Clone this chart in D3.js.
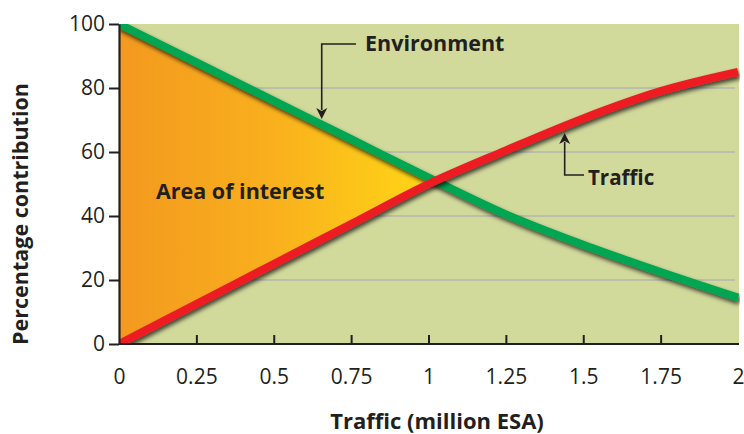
<!DOCTYPE html>
<html><head><meta charset="utf-8">
<script src="https://cdn.jsdelivr.net/npm/d3@7"></script>
<style>
body{margin:0;background:#fff}
svg{display:block}
text{font-family:"Open Sans",sans-serif}
</style>
</head><body>
<svg id="c" width="744" height="434"></svg>
<script>
// ---- data ----
const trafficESA = [0, 0.25, 0.5, 0.75, 1, 1.25, 1.5, 1.75, 2];
const environmentPct = [100, 88, 76, 64, 52, 40.5, 31, 22.5, 14.5];
const trafficPct = [0, 12.5, 25, 37.5, 50, 60.5, 70.5, 79, 85];
const xTickValues = [0, 0.25, 0.5, 0.75, 1, 1.25, 1.5, 1.75, 2];
const xTickLabels = ["0", "0.25", "0.5", "0.75", "1", "1.25", "1.5", "1.75", "2"];
const yTickValues = [0, 20, 40, 60, 80, 100];
const gridValues = [20, 40, 60, 80];

const svg = d3.select("#c");
const L = 119, R = 738, T = 24, B = 344;
const x = d3.scaleLinear().domain([0, 2]).range([L, R]);
const y = d3.scaleLinear().domain([0, 100]).range([B, T]);

const defs = svg.append("defs");
const grad = defs.append("linearGradient").attr("id", "aoi")
  .attr("gradientUnits", "userSpaceOnUse")
  .attr("x1", x(0)).attr("x2", x(1)).attr("y1", 0).attr("y2", 0);
grad.append("stop").attr("offset", 0).attr("stop-color", "#f3991f");
grad.append("stop").attr("offset", 0.5).attr("stop-color", "#f9b01d");
grad.append("stop").attr("offset", 1).attr("stop-color", "#ffd616");

const sh = defs.append("filter").attr("id", "sh")
  .attr("x", "-10%").attr("y", "-10%").attr("width", "120%").attr("height", "130%");
sh.append("feDropShadow").attr("dx", 1.5).attr("dy", 3).attr("stdDeviation", 2)
  .attr("flood-color", "#000").attr("flood-opacity", 0.7);

defs.append("clipPath").attr("id", "plot").append("rect")
  .attr("x", L).attr("y", T).attr("width", R - L + 2).attr("height", B - T);

// intersection of the two series
const rows = trafficESA.map((t, i) => ({t, e: environmentPct[i], r: trafficPct[i]}));
let xi = 2;
for (let i = 1; i < rows.length; i++) {
  const d0 = rows[i-1].e - rows[i-1].r, d1 = rows[i].e - rows[i].r;
  if (d0 >= 0 && d1 < 0) { xi = rows[i-1].t + (rows[i].t - rows[i-1].t) * d0 / (d0 - d1); break; }
}
defs.append("clipPath").attr("id", "aoiclip").append("rect")
  .attr("x", L).attr("y", T).attr("width", x(xi) - L).attr("height", B - T);

// background
svg.append("rect").attr("x", L).attr("y", T).attr("width", R - L + 1).attr("height", B - T)
  .attr("fill", "#d1d99b");

// grid
svg.append("g").selectAll("line").data(gridValues).join("line")
  .attr("x1", L).attr("x2", R - 3).attr("y1", d => y(d)).attr("y2", d => y(d))
  .attr("stroke", "#a4a6b6").attr("stroke-width", 1.2);

// area of interest
const curve = d3.curveCatmullRom.alpha(0.5);
const area = d3.area().x(d => x(d.t)).y0(d => y(d.r)).y1(d => y(d.e)).curve(curve);
svg.append("path").datum(rows).attr("d", area).attr("fill", "url(#aoi)")
  .attr("clip-path", "url(#aoiclip)");

const lines = svg.append("g").attr("clip-path", "url(#plot)");
const envLine = d3.line().x(d => x(d.t)).y(d => y(d.e)).curve(curve);
const trLine = d3.line().x(d => x(d.t)).y(d => y(d.r)).curve(curve);
lines.append("path").datum(rows).attr("d", envLine).attr("fill", "none")
  .attr("stroke", "#00a651").attr("stroke-width", 8).attr("filter", "url(#sh)");
lines.append("path").datum(rows).attr("d", trLine).attr("fill", "none")
  .attr("stroke", "#ed1c24").attr("stroke-width", 8).attr("filter", "url(#sh)");

// axes
const ink = "#231f20";
const yAxis = svg.append("g").attr("transform", `translate(${L},0)`)
  .call(d3.axisLeft(y).tickValues(yTickValues).tickSizeInner(10).tickSizeOuter(0).tickPadding(4));
const xAxis = svg.append("g").attr("transform", `translate(0,${B})`)
  .call(d3.axisBottom(x).tickValues(xTickValues).tickFormat((d, i) => xTickLabels[i])
    .tickSizeInner(-9).tickSizeOuter(0).tickPadding(25));
[yAxis, xAxis].forEach(g => {
  g.select(".domain").attr("stroke", ink).attr("stroke-width", 2.2);
  g.selectAll(".tick line").attr("stroke", ink).attr("stroke-width", 2);
  g.selectAll(".tick text").attr("fill", ink).style("font-size", "21px")
    .style("font-family", '"Open Sans", sans-serif');
});
xAxis.selectAll(".tick line").filter(d => d === 0 || d === 2).remove();
xAxis.select(".domain").attr("d", `M${L},0H${R + 1}`);

// axis titles
svg.append("text").attr("x", 437).attr("y", 429).attr("text-anchor", "middle")
  .attr("font-weight", 700).attr("font-size", 22).attr("fill", ink)
  .text("Traffic (million ESA)");
svg.append("text").attr("transform", "translate(28,214) rotate(-90)")
  .attr("text-anchor", "middle").attr("font-weight", 700).attr("font-size", 21.5).attr("fill", ink)
  .text("Percentage contribution");

// annotations
svg.append("text").attr("x", 156).attr("y", 199).attr("font-weight", 700)
  .attr("font-size", 21.5).attr("fill", ink).text("Area of interest");
svg.append("text").attr("x", 365).attr("y", 51).attr("font-weight", 700)
  .attr("font-size", 21.5).attr("fill", ink).text("Environment");
svg.append("text").attr("x", 588).attr("y", 185).attr("font-weight", 700)
  .attr("font-size", 20.5).attr("fill", ink).text("Traffic");

// callout arrows
const ax1 = x(0.655), ax2 = x(1.44);
svg.append("path").attr("d", `M356,44H${ax1}V110`).attr("fill", "none")
  .attr("stroke", ink).attr("stroke-width", 1.6);
svg.append("path").attr("d", `M${ax1 - 5.5},108L${ax1},${119}L${ax1 + 5.5},108L${ax1},111Z`).attr("fill", ink);
svg.append("path").attr("d", `M584,175H${ax2}V142`).attr("fill", "none")
  .attr("stroke", ink).attr("stroke-width", 1.6);
svg.append("path").attr("d", `M${ax2 - 5.5},144L${ax2},133L${ax2 + 5.5},144L${ax2},141Z`).attr("fill", ink);
</script>
</body></html>
